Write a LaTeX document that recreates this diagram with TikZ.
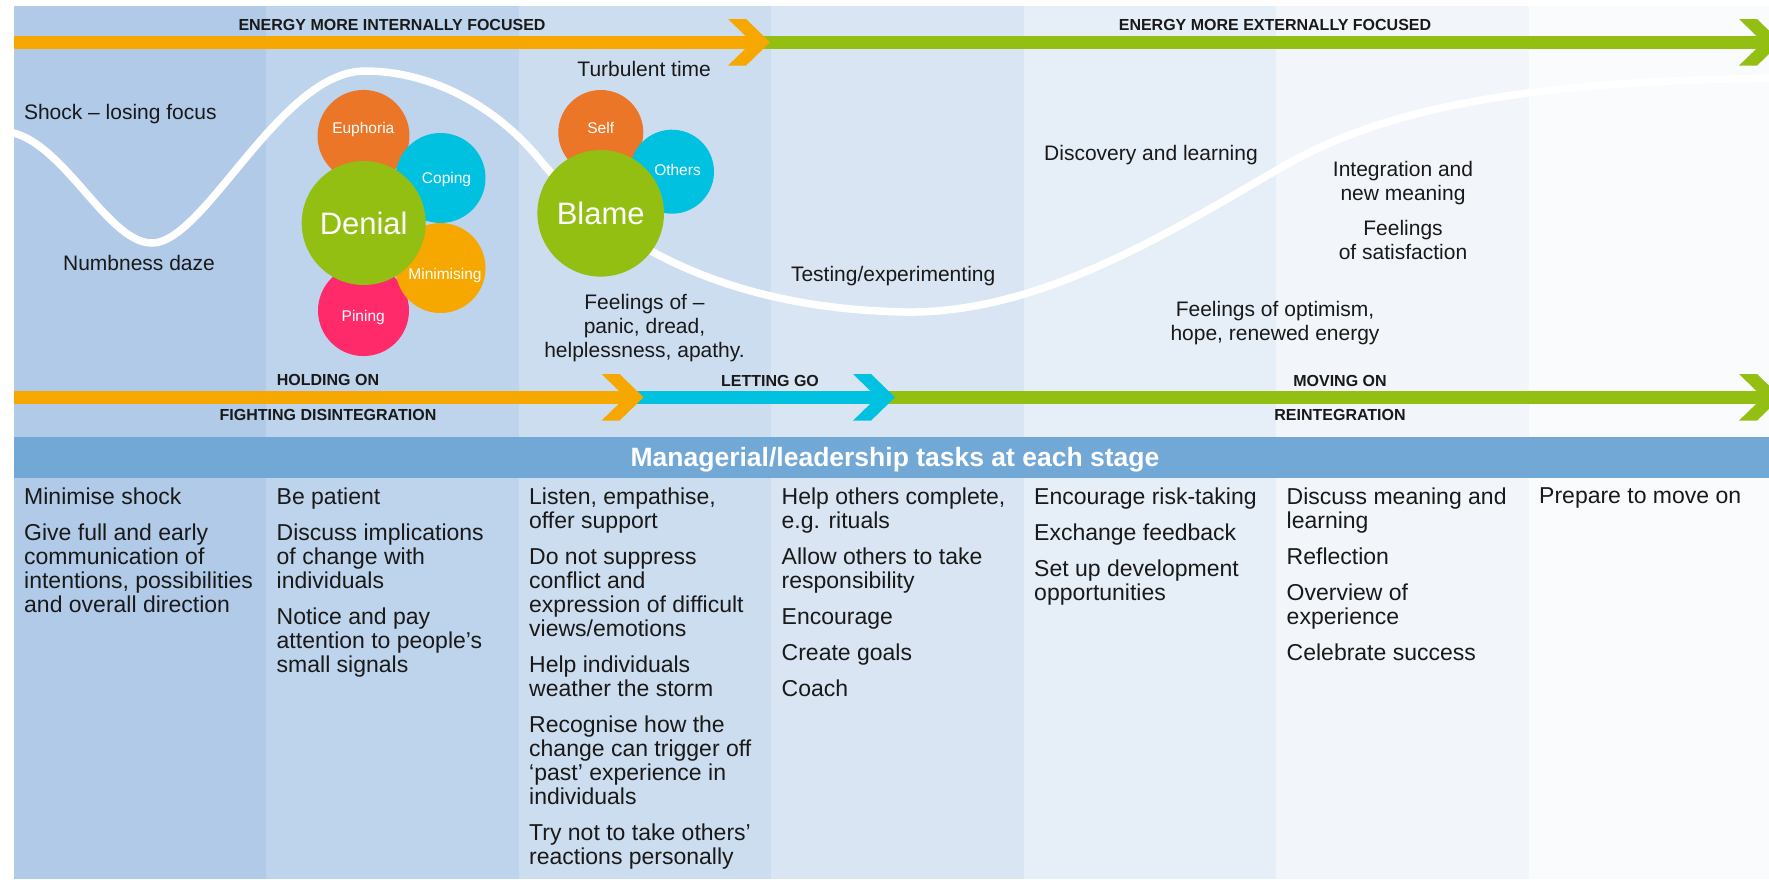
\documentclass[tikz,border=0pt]{standalone}
\usepackage{fontspec}
\setmainfont{Liberation Sans}
\definecolor{shadeA}{RGB}{176,202,232}
\definecolor{shadeB}{RGB}{190,212,236}
\definecolor{shadeC}{RGB}{205,221,240}
\definecolor{shadeD}{RGB}{218,229,243}
\definecolor{shadeE}{RGB}{230,238,248}
\definecolor{shadeF}{RGB}{242,246,251}
\definecolor{shadeG}{RGB}{249,251,253}
\definecolor{bar}{RGB}{114,168,213}
\definecolor{amber}{RGB}{246,168,0}
\definecolor{leaf}{RGB}{147,190,18}
\definecolor{aqua}{RGB}{0,194,224}
\definecolor{ember}{RGB}{235,118,39}
\definecolor{rose}{RGB}{255,42,106}
\definecolor{ink}{RGB}{25,25,25}

\begin{document}
\begin{tikzpicture}[x=1pt,y=-1pt,inner sep=0pt,outer sep=0pt,
  lbl/.style={font=\fontsize{21}{24}\selectfont,text=ink},
  caps/.style={font=\bfseries\fontsize{16}{18}\selectfont,text=ink,anchor=base},
  task/.style={font=\fontsize{23}{24}\selectfont,text=ink,align=left,anchor=north west},
  petal/.style={font=\fontsize{15.5}{17}\selectfont,text=white,anchor=base},
  core/.style={circle,fill=leaf,text=white,font=\fontsize{31}{33}\selectfont}]
  \useasboundingbox (0,0) rectangle (1769,879);
  \clip (0,0) rectangle (1769,879);
  \fill[white] (0,0) rectangle (1769,879);
  \fill[shadeA] (13.5,6) rectangle (266,879);
  \fill[shadeB] (266,6) rectangle (518.5,879);
  \fill[shadeC] (518.5,6) rectangle (771,879);
  \fill[shadeD] (771,6) rectangle (1023.5,879);
  \fill[shadeE] (1023.5,6) rectangle (1276,879);
  \fill[shadeF] (1276,6) rectangle (1528.5,879);
  \fill[shadeG] (1528.5,6) rectangle (1769,879);
  \fill[bar] (13.5,437) rectangle (1769,478);
  \node[font=\bfseries\fontsize{26.5}{28}\selectfont,text=white,anchor=base] (tasks) at (895,466) {Managerial/leadership tasks at each stage};

  \fill[amber] (13.5,36) rectangle (758,48.7);
  \fill[leaf] (758,36) rectangle (1769,48.7);
  \fill[amber] (13.5,391) rectangle (632,403.5);
  \fill[aqua] (632,391) rectangle (884,403.5);
  \fill[leaf] (884,391) rectangle (1769,403.5);
  \fill[amber] (770,42.3) -- (746,19) -- (728,19) -- (752,42.3) -- (728,65.6) -- (746,65.6) -- cycle;
  \fill[leaf] (1781,42.3) -- (1757,19) -- (1739,19) -- (1763,42.3) -- (1739,65.6) -- (1757,65.6) -- cycle;
  \fill[amber] (643.5,397.3) -- (619.5,374) -- (601.5,374) -- (625.5,397.3) -- (601.5,420.6) -- (619.5,420.6) -- cycle;
  \fill[aqua] (895,397.3) -- (871,374) -- (853,374) -- (877,397.3) -- (853,420.6) -- (871,420.6) -- cycle;
  \fill[leaf] (1781,397.3) -- (1757,374) -- (1739,374) -- (1763,397.3) -- (1739,420.6) -- (1757,420.6) -- cycle;

  \draw[white,line width=7.5] (0,131) .. controls (60,131) and (105,243) .. (152,243)
    .. controls (205,243) and (280,71) .. (365,71)
    .. controls (430,71) and (495,105) .. (540,160)
    .. controls (585,215) and (690,308) .. (905,312)
    .. controls (1040,314) and (1170,232) .. (1282,167)
    .. controls (1394,102) and (1550,80) .. (1790,78);

  \fill[ember] (363.5,136) ++(90:65) -- ++(225:46) arc[start angle=135,end angle=405,radius=46] -- cycle;
  \fill[rose] (363.5,310.5) ++(270:64.3) -- ++(45:45.5) arc[start angle=315,end angle=585,radius=45.5] -- cycle;
  \fill[aqua] (440.5,178) ++(149.6:63.6) -- ++(284.6:45) arc[start angle=194.6,end angle=464.6,radius=45] -- cycle;
  \fill[amber] (440.5,268) ++(210.4:63.6) -- ++(345.4:45) arc[start angle=255.4,end angle=525.4,radius=45] -- cycle;
  \node[core,minimum size=124] (denial) at (363.7,223) {Denial};
  \fill[ember] (600.8,132.5) ++(90:60.1) -- ++(225:42.5) arc[start angle=135,end angle=405,radius=42.5] -- cycle;
  \fill[aqua] (672,171.7) ++(149.7:59.4) -- ++(284.7:42) arc[start angle=194.7,end angle=464.7,radius=42] -- cycle;
  \node[core,minimum size=126.6] (blame) at (600.7,213.3) {Blame};

  \node[petal] (euphoria) at (363.3,133.3) {Euphoria};
  \node[petal] (coping) at (446.5,183.3) {Coping};
  \node[petal] (minimising) at (445,279) {Minimising};
  \node[petal] (pining) at (363.2,321.7) {Pining};
  \node[petal] (self) at (600.7,133.3) {Self};
  \node[petal] (others) at (677.5,175.7) {Others};

  \node[lbl,anchor=base west] (shock) at (24,119.3) {Shock – losing focus};
  \node[lbl,anchor=base] (numb) at (139,270.7) {Numbness daze};
  \node[lbl,anchor=base] (turb) at (644.2,76) {Turbulent time};
  \node[lbl,align=center,anchor=north] (panic) at (644.5,294) {Feelings of –\\panic, dread,\\helplessness, apathy.};
  \node[lbl,anchor=base west] (test) at (791,281.7) {Testing/experimenting};
  \node[lbl,anchor=base] (disc) at (1151,160.7) {Discovery and learning};
  \node[lbl,align=center,anchor=north] (integ) at (1403,161.4) {Integration and\\new meaning};
  \node[lbl,align=center,anchor=north] (satisf) at (1403,220.7) {Feelings\\of satisfaction};
  \node[lbl,align=center,anchor=north] (optim) at (1275,301.4) {Feelings of optimism,\\hope, renewed energy};

  \node[caps] (internal) at (392,30.7) {ENERGY MORE INTERNALLY FOCUSED};
  \node[caps] (external) at (1275,30.7) {ENERGY MORE EXTERNALLY FOCUSED};
  \node[caps] (holding) at (328,385.8) {HOLDING ON};
  \node[caps] (fighting) at (328,420.7) {FIGHTING DISINTEGRATION};
  \node[caps] (letting) at (770,386) {LETTING GO};
  \node[caps] (moving) at (1340,386) {MOVING ON};
  \node[caps] (reinteg) at (1340,420.7) {REINTEGRATION};

  \node[task] (minimise) at (24.2,487.5) {Minimise shock\\[12pt]Give full and early\\communication of\\intentions, possibilities\\and overall direction};
  \node[task] (patient) at (276.7,487.5) {Be patient\\[12pt]Discuss implications\\of change with\\individuals\\[12pt]Notice and pay\\attention to people’s\\small signals};
  \node[task] (listen) at (529.2,487.5) {Listen, empathise,\\offer support\\[12pt]Do not suppress\\conflict and\\expression of difficult\\views/emotions\\[12pt]Help individuals\\weather the storm\\[12pt]Recognise how the\\change can trigger off\\‘past’ experience in\\individuals\\[12pt]Try not to take others’\\reactions personally};
  \node[task] (helpothers) at (781.7,487.5) {Help others complete,\\e.g. rituals\\[12pt]Allow others to take\\responsibility\\[12pt]Encourage\\[12pt]Create goals\\[12pt]Coach};
  \node[task] (risk) at (1034.2,487.5) {Encourage risk-taking\\[12pt]Exchange feedback\\[12pt]Set up development\\opportunities};
  \node[task] (meaning) at (1286.7,487.5) {Discuss meaning and\\learning\\[12pt]Reflection\\[12pt]Overview of\\experience\\[12pt]Celebrate success};
  \node[task] (prepare) at (1539.2,487.5) {Prepare to move on};
\end{tikzpicture}
\end{document}
